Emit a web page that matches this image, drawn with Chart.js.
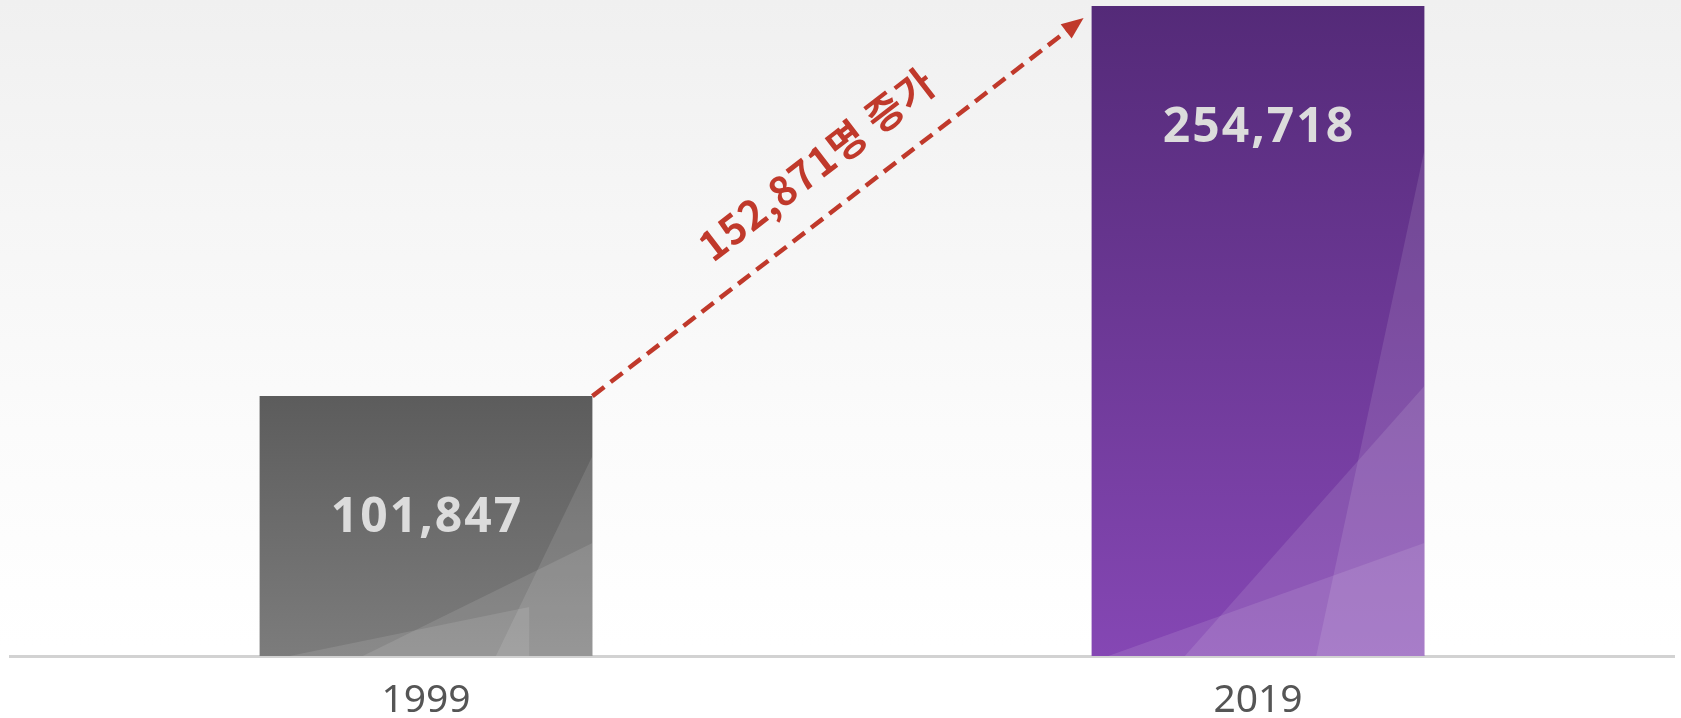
<!DOCTYPE html>
<html><head><meta charset="utf-8">
<script src="https://cdn.jsdelivr.net/npm/chart.js@4"></script>
<style>
html,body{margin:0;padding:0;}
body{width:1681px;height:718px;overflow:hidden;background:linear-gradient(to bottom,#f0f0f0 0%,#f6f6f6 30%,#fbfbfb 60%,#ffffff 90%);}
#wrap{position:relative;width:1681px;height:718px;}
</style></head><body>
<div id="wrap"><canvas id="c"></canvas></div>
<script>
const categories = ['1999', '2019'];
const population = [101847, 254718];
const increase = population[1] - population[0];
const increaseLabel = increase.toLocaleString('en-US') + '명 증가';

const STYLE = {
  barTop: ['#5c5c5c', '#542a78'],
  barBottom: ['#7c7c7c', '#8547b4'],
  valueColor: '#dcdcdc',
  tickColor: '#555555',
  arrowColor: '#c0392b'
};

// decorative translucent facets per bar: [fraction of width, px above base]
const facets = [
  [[[0.09,0],[0.81,49],[0.81,0]], [[0.31,0],[1,113],[1,0]], [[0.71,0],[1,200],[1,0]]],
  [[[0.05,0],[1,113],[1,0]], [[0.28,0],[1,270],[1,0]], [[0.675,0],[1,506],[1,0]]]
];

function barColor(ctx) {
  const chart = ctx.chart;
  const i = ctx.dataIndex;
  if (!chart.chartArea || !chart.scales.y) return STYLE.barTop[i];
  const y = chart.scales.y;
  const top = y.getPixelForValue(population[i]);
  const base = y.getPixelForValue(0);
  const g = chart.ctx.createLinearGradient(0, top, 0, base);
  g.addColorStop(0, STYLE.barTop[i]);
  g.addColorStop(1, STYLE.barBottom[i]);
  return g;
}

const decorPlugin = {
  id: 'decor',
  afterDatasetsDraw(chart) {
    const ctx = chart.ctx;
    const meta = chart.getDatasetMeta(0);
    meta.data.forEach((bar, i) => {
      const left = bar.x - bar.width / 2;
      const base = bar.base;
      ctx.save();
      ctx.beginPath();
      ctx.rect(left, bar.y, bar.width, base - bar.y);
      ctx.clip();
      ctx.fillStyle = 'rgba(255,255,255,0.11)';
      facets[i].forEach(poly => {
        ctx.beginPath();
        poly.forEach((p, k) => {
          const px = left + p[0] * bar.width;
          const py = base - p[1];
          if (k === 0) ctx.moveTo(px, py); else ctx.lineTo(px, py);
        });
        ctx.closePath();
        ctx.fill();
      });
      ctx.restore();

      // value label
      ctx.save();
      ctx.fillStyle = STYLE.valueColor;
      ctx.font = 'bold 48px "Noto Sans", "DejaVu Sans", sans-serif';
      ctx.letterSpacing = '2px';
      ctx.textAlign = 'center';
      ctx.textBaseline = 'alphabetic';
      ctx.fillText(population[i].toLocaleString('en-US'), bar.x + 1, bar.y + 136);
      ctx.restore();
    });

    // arrow
    const b0 = meta.data[0], b1 = meta.data[1];
    const sx = b0.x + b0.width / 2, sy = b0.y;
    const tx = b1.x - b1.width / 2 - 8, ty = b1.y + 12;
    const dx = tx - sx, dy = ty - sy;
    const len = Math.hypot(dx, dy);
    const ux = dx / len, uy = dy / len;
    const headLen = 22, headW = 9;
    const ex = tx - ux * (headLen - 2), ey = ty - uy * (headLen - 2);
    ctx.save();
    ctx.strokeStyle = STYLE.arrowColor;
    ctx.lineWidth = 4.5;
    ctx.setLineDash([15, 8]);
    ctx.beginPath();
    ctx.moveTo(sx, sy);
    ctx.lineTo(ex, ey);
    ctx.stroke();
    ctx.setLineDash([]);
    ctx.fillStyle = STYLE.arrowColor;
    const bx = tx - ux * headLen, by = ty - uy * headLen;
    ctx.beginPath();
    ctx.moveTo(tx, ty);
    ctx.lineTo(bx - uy * headW, by + ux * headW);
    ctx.lineTo(bx + uy * headW, by - ux * headW);
    ctx.closePath();
    ctx.fill();

    // label along arrow
    const t = 0.515;
    const mx = sx + dx * t, my = sy + dy * t;
    const nx = uy, ny = -ux;           // normal (rotated -90deg)
    const sgn = ny < 0 ? 1 : -1;       // pick the upward side
    const off = 47;
    ctx.translate(mx + nx * off * sgn, my + ny * off * sgn);
    ctx.rotate(Math.atan2(dy, dx));
    ctx.font = 'bold 40px "Noto Sans CJK KR", "Noto Sans", sans-serif';
    ctx.letterSpacing = '1px';
    ctx.textAlign = 'center';
    ctx.textBaseline = 'middle';
    ctx.fillText(increaseLabel, 0, 0);
    ctx.restore();
  }
};

new Chart(document.getElementById('c'), {
  type: 'bar',
  data: {
    labels: categories,
    datasets: [{
      data: population,
      backgroundColor: barColor,
      borderWidth: 0,
      barPercentage: 0.4,
      categoryPercentage: 1
    }]
  },
  options: {
    responsive: true,
    maintainAspectRatio: false,
    animation: false,
    layout: { padding: { top: 6, left: 10, right: 7, bottom: 0 } },
    plugins: { legend: { display: false }, tooltip: { enabled: false } },
    scales: {
      x: {
        grid: { display: false, drawTicks: false },
        border: { display: true, color: '#d2d2d2', width: 3 },
        ticks: {
          color: STYLE.tickColor,
          font: { family: '"Noto Sans", "DejaVu Sans", sans-serif', size: 39 },
          padding: 21
        },
        afterFit(s) { s.height = 62; }
      },
      y: {
        display: false,
        min: 0,
        max: Math.max(...population)
      }
    }
  },
  plugins: [decorPlugin]
});
</script>
</body></html>
